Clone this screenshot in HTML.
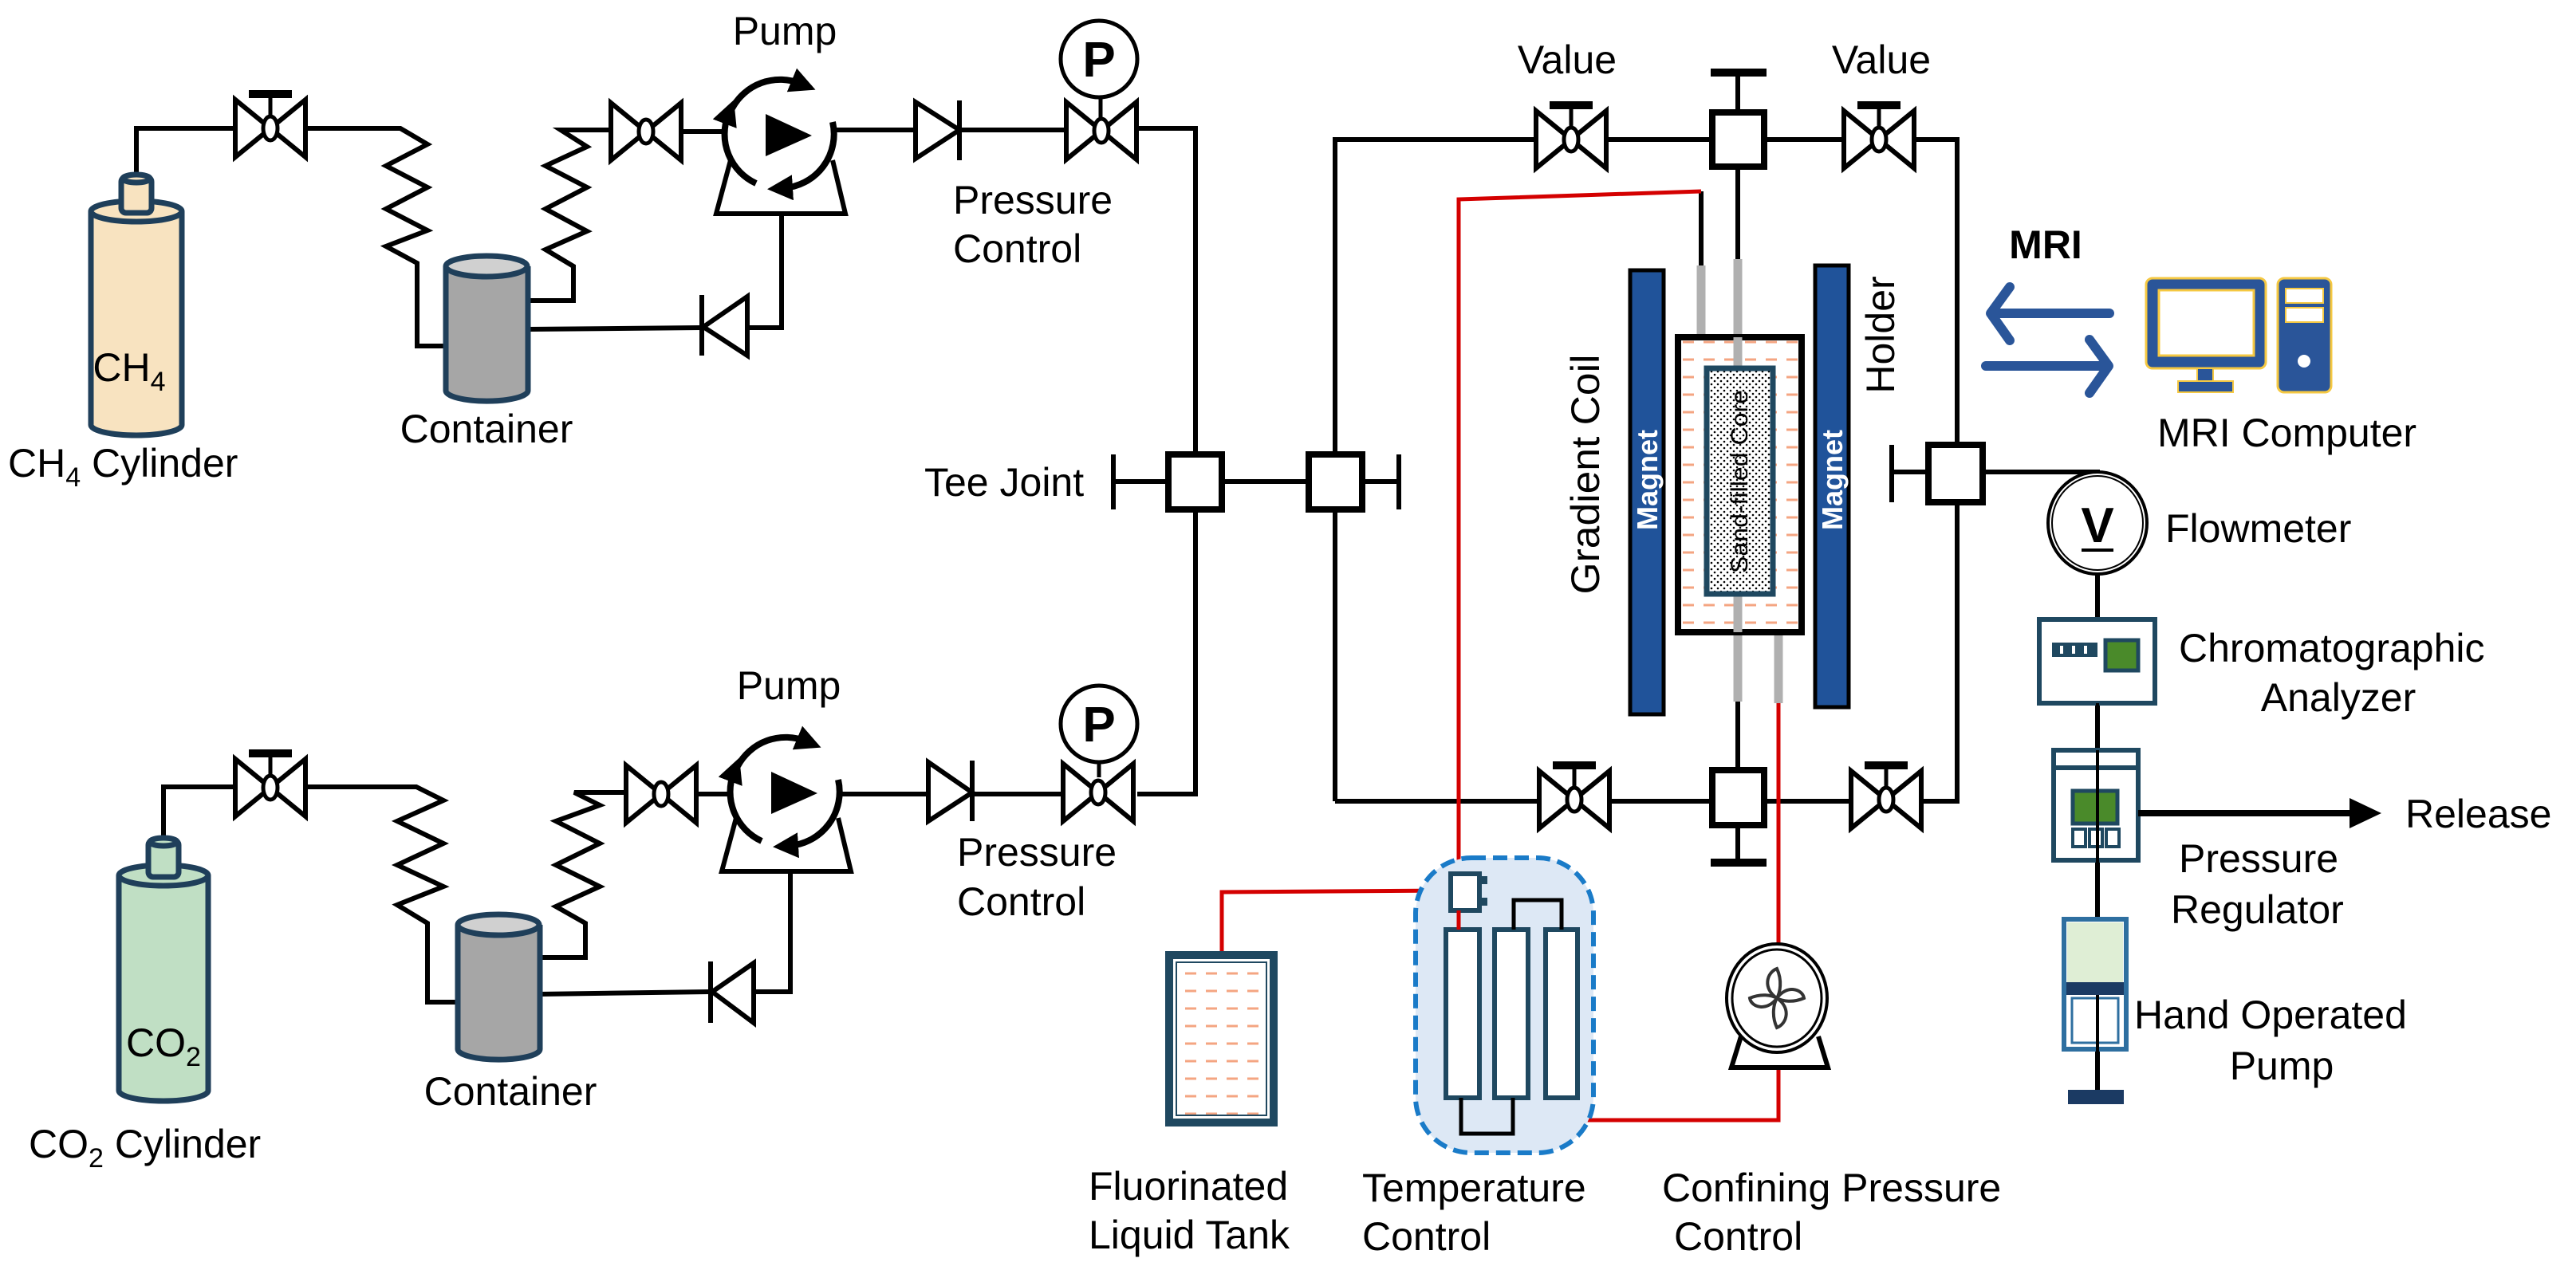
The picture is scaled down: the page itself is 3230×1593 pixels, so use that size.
<!DOCTYPE html>
<html><head><meta charset="utf-8"><style>
html,body{margin:0;padding:0;background:#fff;}
svg{display:block;}
text{font-family:"Liberation Sans",Arial,sans-serif;fill:#000;}
</style></head><body>
<svg width="3230" height="1593" viewBox="0 0 3230 1593" xmlns="http://www.w3.org/2000/svg">
<defs>
<marker id="ah" markerWidth="4" markerHeight="4" refX="1.5" refY="2" orient="auto" markerUnits="strokeWidth"><path d="M0,0 L4,2 L0,4 Z" fill="#000"/></marker>
<g id="valve">
<path d="M-44,-36 L-44,36 L44,-36 L44,36 Z" fill="#fff" stroke="#000" stroke-width="6" stroke-linejoin="miter"/>
<ellipse cx="0" cy="0" rx="9" ry="15" fill="#fff" stroke="#000" stroke-width="5"/>
</g>
<g id="valveh">
<line x1="0" y1="-15" x2="0" y2="-42" stroke="#000" stroke-width="5"/>
<rect x="-27" y="-48" width="54" height="10" fill="#000"/>
<use href="#valve"/>
</g>
<g id="pump">
<path d="M-60,-32 A68,68 0 0 1 26,-63" fill="none" stroke="#000" stroke-width="8" marker-end="url(#ah)"/>
<path d="M66,-15 A68,68 0 0 1 4,68" fill="none" stroke="#000" stroke-width="8" marker-end="url(#ah)"/>
<path d="M-30,62 A68,68 0 0 1 -65,-24" fill="none" stroke="#000" stroke-width="8" marker-end="url(#ah)"/>
<path d="M-62,33 L-80,100 L82,100 L66,33" fill="none" stroke="#000" stroke-width="6"/>
<path d="M-18,-25 L40,2 L-18,28 Z" fill="#000"/>
</g>
<pattern id="dash" width="26" height="22" patternUnits="userSpaceOnUse"><rect width="26" height="22" fill="#fff"/><line x1="4" y1="11" x2="18" y2="11" stroke="#f4a582" stroke-width="3"/></pattern>
<pattern id="dots" width="8" height="8" patternUnits="userSpaceOnUse"><rect width="8" height="8" fill="#fff"/><circle cx="2" cy="2" r="1.3" fill="#000"/><circle cx="6" cy="6" r="1.3" fill="#000"/></pattern>
</defs>

<g fill="none" stroke="#000" stroke-width="6" stroke-linejoin="miter">
<polyline points="171,225 171,161 384,161"/>
<polyline points="384,161 502,161 536,181 484,208 536,235 484,262 536,289 484,309 523,330 523,434 559,434"/>
<polyline points="662,377 719,377 719,334 684,313 736,290 684,262 736,235 684,208 736,184 703,163 764,163"/>
<line x1="855" y1="165" x2="912" y2="165"/>
<polyline points="980,268 980,411 937,411"/>
<line x1="880" y1="411" x2="662" y2="413"/>
<line x1="1045" y1="163" x2="1148" y2="163"/>
<line x1="1203" y1="163" x2="1336" y2="163"/>
<polyline points="1426,161 1499,161 1499,996 1426,996"/>
<polyline points="205,1060 205,987 384,987"/>
<polyline points="384,987 522,987 556,1004 498,1030 556,1058 498,1085 556,1112 498,1135 536,1158 536,1257 574,1257"/>
<polyline points="677,1201 734,1201 734,1158 697,1137 752,1112 697,1085 752,1058 697,1030 752,1010 720,994 783,994"/>
<line x1="876" y1="996" x2="918" y2="996"/>
<polyline points="991,1094 991,1244 945,1244"/>
<line x1="891" y1="1244" x2="677" y2="1247"/>
<line x1="1050" y1="996" x2="1164" y2="996"/>
<line x1="1221" y1="996" x2="1331" y2="996"/>
<line x1="1396" y1="604" x2="1754" y2="604"/>
<line x1="1396" y1="570" x2="1396" y2="639"/>
<line x1="1754" y1="570" x2="1754" y2="639"/>
<polyline points="1674,1005 1674,175 2454,175 2454,1005 1674,1005"/>
<line x1="2179" y1="91" x2="2179" y2="330"/>
<line x1="2179" y1="880" x2="2179" y2="1082"/>
<polyline points="2372,592 2630,592 2630,1372"/>
<line x1="2372" y1="558" x2="2372" y2="630"/>
<line x1="2133" y1="240" x2="2133" y2="335"/>
</g>
<rect x="2145" y="86" width="70" height="10" fill="#000"/>
<rect x="2145" y="1077" width="70" height="10" fill="#000"/>

<g fill="#fff" stroke="#000" stroke-width="8">
<rect x="1465" y="570" width="67" height="69"/>
<rect x="1641" y="570" width="67" height="69"/>
<rect x="2418" y="558" width="68" height="72"/>
<rect x="2147" y="141" width="65" height="68"/>
<rect x="2147" y="966" width="65" height="69"/>
</g>

<use href="#valveh" x="339" y="161"/>
<use href="#valve" x="810" y="165"/>
<use href="#valve" x="1381" y="164"/>
<use href="#valveh" x="339" y="988"/>
<use href="#valve" x="829" y="996"/>
<use href="#valve" x="1377" y="994"/>
<use href="#valveh" x="1970" y="175"/>
<use href="#valveh" x="2356" y="175"/>
<use href="#valveh" x="1974" y="1003"/>
<use href="#valveh" x="2365" y="1003"/>

<g stroke="#000" stroke-width="5" fill="#fff">
<line x1="1380" y1="122" x2="1380" y2="150"/>
<circle cx="1378" cy="74" r="48"/>
<line x1="1378" y1="956" x2="1378" y2="975"/>
<circle cx="1378" cy="908" r="48"/>
</g>
<text x="1378" y="96" font-size="62" font-weight="bold" text-anchor="middle">P</text>
<text x="1378" y="930" font-size="62" font-weight="bold" text-anchor="middle">P</text>

<g fill="#fff" stroke="#000" stroke-width="6">
<path d="M1148,128 L1203,163 L1148,199 Z"/><line x1="1203" y1="126" x2="1203" y2="201"/>
<path d="M937,372 L882,410 L937,446 Z"/><line x1="880" y1="370" x2="880" y2="446"/>
<path d="M1164,956 L1219,994 L1164,1030 Z"/><line x1="1219" y1="954" x2="1219" y2="1030"/>
<path d="M945,1208 L893,1244 L945,1283 Z"/><line x1="891" y1="1206" x2="891" y2="1283"/>
</g>

<use href="#pump" x="978" y="168"/>
<use href="#pump" x="985" y="993"/>

<g stroke="#1f3f5a" stroke-width="7">
<path d="M114,265 L114,533 A57,13 0 0 0 228,533 L228,265" fill="#f8e3c0"/>
<ellipse cx="171" cy="265" rx="57" ry="13" fill="#f8e3c0"/>
<rect x="152" y="222" width="38" height="45" rx="6" fill="#f8e3c0"/>
<ellipse cx="171" cy="224" rx="17" ry="5" fill="#f8e3c0"/>
<path d="M149,1098 L149,1368 A56,13 0 0 0 261,1368 L261,1098" fill="#c0dfc4"/>
<ellipse cx="205" cy="1098" rx="56" ry="13" fill="#c0dfc4"/>
<rect x="186" y="1054" width="38" height="46" rx="6" fill="#c0dfc4"/>
<ellipse cx="205" cy="1056" rx="17" ry="5" fill="#c0dfc4"/>
<path d="M559,334 L559,490 A51,13 0 0 0 662,490 L662,334" fill="#a6a6a6"/>
<ellipse cx="610" cy="334" rx="51" ry="13" fill="#d0d0d0"/>
<path d="M574,1160 L574,1316 A51,13 0 0 0 677,1316 L677,1160" fill="#a6a6a6"/>
<ellipse cx="625" cy="1160" rx="51" ry="13" fill="#d0d0d0"/>
</g>

<g fill="none" stroke="#d40000" stroke-width="5">
<polyline points="1829,1165 1829,250 2133,240"/>
<polyline points="1532,1193 1532,1119 1819,1117"/>
<polyline points="1957,1369 1957,1405 2230,1405 2230,1341"/>
<line x1="2230" y1="880" x2="2230" y2="1183"/>
</g>

<g stroke="#b0b0b0" stroke-width="11">
<line x1="2133" y1="333" x2="2133" y2="424"/>
<line x1="2179" y1="325" x2="2179" y2="880"/>
<line x1="2230" y1="790" x2="2230" y2="882"/>
</g>

<rect x="2104" y="423" width="155" height="370" fill="url(#dash)" stroke="#000" stroke-width="8"/>
<line x1="2179" y1="423" x2="2179" y2="465" stroke="#b0b0b0" stroke-width="11"/>
<line x1="2179" y1="745" x2="2179" y2="793" stroke="#b0b0b0" stroke-width="11"/>
<rect x="2140" y="462" width="83" height="283" fill="url(#dots)" stroke="#1f4860" stroke-width="7"/>
<text transform="translate(2191,604) rotate(-90)" font-size="30" text-anchor="middle" textLength="230" lengthAdjust="spacingAndGlyphs">Sand-filled Core</text>
<rect x="2044" y="339" width="42" height="557" fill="#20539a" stroke="#000" stroke-width="5"/>
<rect x="2276" y="333" width="42" height="554" fill="#20539a" stroke="#000" stroke-width="5"/>
<text transform="translate(2078,602) rotate(-90)" font-size="36" font-weight="bold" style="fill:#fff" text-anchor="middle">Magnet</text>
<text transform="translate(2310,602) rotate(-90)" font-size="36" font-weight="bold" style="fill:#fff" text-anchor="middle">Magnet</text>
<text transform="translate(2005,595) rotate(-90)" font-size="50" text-anchor="middle" textLength="301" lengthAdjust="spacingAndGlyphs">Gradient Coil</text>
<text transform="translate(2375,420) rotate(-90)" font-size="50" text-anchor="middle">Holder</text>

<text x="2565" y="324" font-size="50" font-weight="bold" text-anchor="middle">MRI</text>
<g fill="none" stroke="#2a5599" stroke-width="12" stroke-linecap="round" stroke-linejoin="round">
<line x1="2645" y1="393" x2="2500" y2="393"/><polyline points="2520,360 2496,393 2520,427"/>
<line x1="2490" y1="459" x2="2640" y2="459"/><polyline points="2620,426 2644,459 2620,493"/>
</g>
<rect x="2691" y="349" width="150" height="113" rx="8" fill="#2a5599" stroke="#f5c842" stroke-width="3"/>
<rect x="2707" y="364" width="119" height="82" fill="#fff" stroke="#f5c842" stroke-width="3"/>
<rect x="2755" y="462" width="20" height="20" fill="#2a5599" stroke="#f5c842" stroke-width="2"/>
<rect x="2731" y="478" width="69" height="14" fill="#2a5599" stroke="#f5c842" stroke-width="2"/>
<rect x="2856" y="349" width="67" height="143" rx="8" fill="#2a5599" stroke="#f5c842" stroke-width="3"/>
<rect x="2866" y="362" width="47" height="18" fill="#fff" stroke="#f5c842" stroke-width="2"/>
<rect x="2866" y="386" width="47" height="18" fill="#fff" stroke="#f5c842" stroke-width="2"/>
<circle cx="2889" cy="453" r="8" fill="#fff"/>
<text x="2705" y="560" font-size="50">MRI Computer</text>

<ellipse cx="2630" cy="656" rx="62" ry="64" fill="#fff" stroke="#000" stroke-width="4"/>
<ellipse cx="2630" cy="656" rx="57" ry="59" fill="none" stroke="#000" stroke-width="2"/>
<text x="2630" y="680" font-size="62" font-weight="bold" text-anchor="middle">V</text>
<line x1="2610" y1="690" x2="2650" y2="690" stroke="#000" stroke-width="4"/>
<text x="2715" y="680" font-size="50">Flowmeter</text>

<rect x="2557" y="777" width="145" height="105" fill="#fff" stroke="#1f4860" stroke-width="6"/>
<rect x="2573" y="806" width="57" height="18" fill="#1f4860"/>
<g stroke="#fff" stroke-width="4"><line x1="2585" y1="810" x2="2585" y2="820"/><line x1="2600" y1="810" x2="2600" y2="820"/><line x1="2615" y1="810" x2="2615" y2="820"/></g>
<rect x="2640" y="803" width="41" height="38" fill="#4a8a2a" stroke="#1f4860" stroke-width="5"/>
<line x1="2630" y1="882" x2="2630" y2="945" stroke="#000" stroke-width="4"/>
<text x="2732" y="830" font-size="50">Chromatographic</text>
<text x="2932" y="892" font-size="50" text-anchor="middle">Analyzer</text>

<rect x="2575" y="941" width="106" height="138" fill="#fff" stroke="#1f4860" stroke-width="6"/>
<line x1="2575" y1="963" x2="2681" y2="963" stroke="#1f4860" stroke-width="6"/>
<rect x="2599" y="992" width="56" height="41" fill="#4a8a2a" stroke="#1f4860" stroke-width="5"/>
<g fill="#fff" stroke="#1f4860" stroke-width="4"><rect x="2599" y="1040" width="16" height="22"/><rect x="2620" y="1040" width="16" height="22"/><rect x="2641" y="1040" width="16" height="22"/></g>
<line x1="2630" y1="941" x2="2630" y2="1160" stroke="#000" stroke-width="4"/>
<line x1="2681" y1="1020" x2="2950" y2="1020" stroke="#000" stroke-width="8"/>
<path d="M2946,1001 L2986,1020 L2946,1039 Z" fill="#000"/>
<text x="3016" y="1038" font-size="50">Release</text>
<text x="2732" y="1094" font-size="50">Pressure</text>
<text x="2722" y="1158" font-size="50">Regulator</text>

<rect x="2588" y="1153" width="78" height="163" fill="#fff" stroke="#2e6fa0" stroke-width="6"/>
<rect x="2592" y="1157" width="70" height="75" fill="#dfeed5"/>
<rect x="2591" y="1232" width="72" height="16" fill="#1b3a63"/>
<rect x="2598" y="1252" width="58" height="56" fill="none" stroke="#2e6fa0" stroke-width="3"/>
<line x1="2630" y1="1248" x2="2630" y2="1372" stroke="#000" stroke-width="4"/>
<rect x="2593" y="1367" width="70" height="18" fill="#1b3a63"/>
<text x="2676" y="1290" font-size="50">Hand Operated</text>
<text x="2861" y="1354" font-size="50" text-anchor="middle">Pump</text>

<rect x="1775" y="1076" width="223" height="370" rx="70" fill="#dde8f5" stroke="#1a7bc8" stroke-width="6" stroke-dasharray="18,9"/>
<g fill="#fff" stroke="#1f4860" stroke-width="6">
<rect x="1813" y="1166" width="42" height="211"/>
<rect x="1874" y="1166" width="42" height="211"/>
<rect x="1938" y="1166" width="40" height="211"/>
<rect x="1819" y="1096" width="36" height="46"/>
</g>
<rect x="1857" y="1099" width="8" height="10" fill="#1f4860"/><rect x="1857" y="1126" width="8" height="10" fill="#1f4860"/>
<line x1="1829" y1="1142" x2="1829" y2="1166" stroke="#d40000" stroke-width="5"/>
<polyline points="1898,1166 1898,1129 1958,1129 1958,1166" fill="none" stroke="#000" stroke-width="5"/>
<polyline points="1832,1377 1832,1422 1897,1422 1897,1377" fill="none" stroke="#000" stroke-width="5"/>

<path d="M2183,1300 L2171,1339 L2292,1339 L2280,1300" fill="#fff" stroke="#000" stroke-width="6"/>
<ellipse cx="2228" cy="1252" rx="63" ry="68" fill="#fff" stroke="#000" stroke-width="4"/>
<ellipse cx="2228" cy="1252" rx="56" ry="61" fill="#fff" stroke="#000" stroke-width="3"/>
<g fill="none" stroke="#333" stroke-width="4">
<path d="M2228,1252 C2210,1240 2215,1220 2228,1215 C2235,1230 2232,1245 2228,1252"/>
<path d="M2228,1252 C2240,1235 2260,1240 2262,1252 C2248,1258 2235,1256 2228,1252"/>
<path d="M2228,1252 C2246,1264 2241,1284 2228,1289 C2221,1274 2224,1259 2228,1252"/>
<path d="M2228,1252 C2216,1269 2196,1264 2194,1252 C2208,1246 2221,1248 2228,1252"/>
</g>

<rect x="1461" y="1193" width="141" height="220" fill="#1f4860"/>
<rect x="1471" y="1203" width="121" height="200" fill="#fff"/>
<rect x="1475" y="1207" width="113" height="192" fill="url(#dash)" stroke="#1f4860" stroke-width="2"/>

<g font-size="50">
<text x="162" y="478" text-anchor="middle">CH<tspan font-size="34" dy="12">4</tspan></text>
<text x="10" y="598">CH<tspan font-size="34" dy="12">4</tspan><tspan dy="-12"> Cylinder</tspan></text>
<text x="610" y="555" text-anchor="middle">Container</text>
<text x="984" y="56" text-anchor="middle">Pump</text>
<text x="1195" y="268">Pressure</text>
<text x="1195" y="329">Control</text>
<text x="1159" y="622">Tee Joint</text>
<text x="1965" y="92" text-anchor="middle">Value</text>
<text x="2359" y="92" text-anchor="middle">Value</text>
<text x="205" y="1325" text-anchor="middle">CO<tspan font-size="34" dy="12">2</tspan></text>
<text x="36" y="1452">CO<tspan font-size="34" dy="12">2</tspan><tspan dy="-12"> Cylinder</tspan></text>
<text x="640" y="1386" text-anchor="middle">Container</text>
<text x="989" y="877" text-anchor="middle">Pump</text>
<text x="1200" y="1086">Pressure</text>
<text x="1200" y="1148">Control</text>
<text x="1365" y="1505">Fluorinated</text>
<text x="1365" y="1566">Liquid Tank</text>
<text x="1708" y="1507">Temperature</text>
<text x="1708" y="1568">Control</text>
<text x="2084" y="1507">Confining Pressure</text>
<text x="2099" y="1568">Control</text>
</g>
</svg>
</body></html>
